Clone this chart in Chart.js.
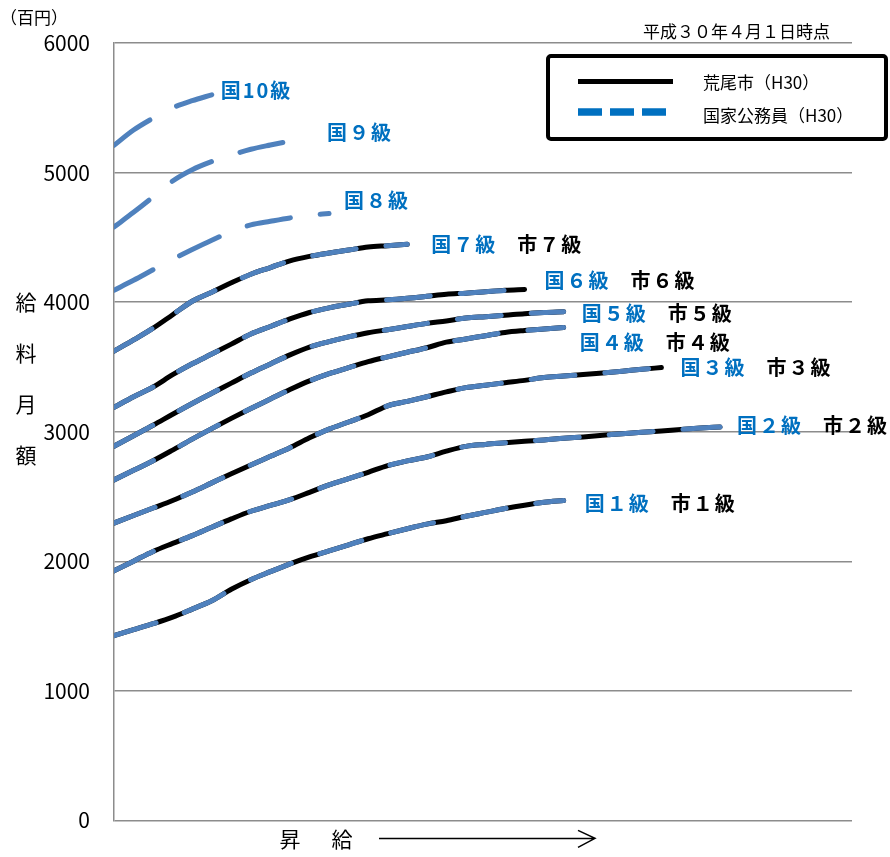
<!DOCTYPE html>
<html lang="ja">
<head>
<meta charset="utf-8">
<title>給料月額の比較（荒尾市・国家公務員）</title>
<script src="https://cdn.jsdelivr.net/npm/chart.js@4/dist/chart.umd.min.js"></script>
<style>
  html, body { margin: 0; padding: 0; background: #fff; }
  #wrap { width: 890px; height: 857px; position: relative; }
</style>
</head>
<body>
<div id="wrap"><canvas id="c" width="890" height="857"></canvas></div>
<script>
// 号俸（4号俸ごと）
const STEPS = [1, 5, 9, 13, 17, 21, 25, 29, 33, 37, 41, 45, 49, 53, 57, 61,
               65, 69, 73, 77, 81, 85, 89, 93, 97, 101, 105, 109, 113, 117, 121, 125];

// 級の表記
const GRADE_NAMES = ['１', '２', '３', '４', '５', '６', '７', '８', '９', '10'];

// 国家公務員 行政職(一) 給料月額（百円）
const national1  = [1426, 1472, 1518, 1569, 1631, 1695, 1784, 1858, 1920, 1980, 2034, 2080,
                    2127, 2174, 2213, 2251, 2287, 2313, 2347, 2377, 2407, 2433, 2455, 2469];
const national2  = [1926, 2001, 2076, 2138, 2198, 2263, 2327, 2386, 2431, 2476, 2532, 2590,
                    2638, 2687, 2738, 2775, 2805, 2850, 2887, 2902, 2914, 2926, 2936, 2949,
                    2960, 2972, 2985, 2996, 3006, 3018, 3028, 3036];
const national3  = [2295, 2353, 2411, 2469, 2535, 2605, 2675, 2743, 2810, 2877, 2953, 3020,
                    3075, 3131, 3200, 3234, 3270, 3307, 3340, 3359, 3378, 3396, 3418, 3429,
                    3441, 3453, 3467, 3482, 3495];
const national4  = [2628, 2702, 2776, 2858, 2943, 3024, 3103, 3179, 3252, 3325, 3392, 3448,
                    3494, 3541, 3578, 3613, 3648, 3691, 3716, 3741, 3766, 3781, 3793, 3805];
const national5  = [2888, 2969, 3050, 3135, 3218, 3297, 3375, 3453, 3523, 3593, 3653, 3695,
                    3732, 3764, 3787, 3812, 3836, 3855, 3877, 3888, 3899, 3911, 3920, 3926];
const national6  = [3188, 3270, 3345, 3440, 3524, 3599, 3676, 3754, 3812, 3870, 3920, 3956,
                    3984, 4010, 4018, 4030, 4045, 4061, 4069, 4080, 4091, 4098];
const national7  = [3622, 3708, 3799, 3903, 4007, 4077, 4149, 4215, 4267, 4319, 4353, 4379,
                    4402, 4426, 4436, 4446];
const national8  = [4092, 4169, 4250, 4330, 4406, 4478, 4544, 4596, 4624, 4650, 4670, 4684];
const national9  = [4580, 4693, 4812, 4935, 5022, 5085, 5135, 5180, 5213, 5243];
const national10 = [5210, 5328, 5420, 5500, 5555, 5600];

// 荒尾市 給料月額（百円）— 1級〜7級は国の表と同額
const city1 = national1.slice();
const city2 = national2.slice();
const city3 = national3.slice();
const city4 = national4.slice();
const city5 = national5.slice();
const city6 = national6.slice();
const city7 = national7.slice();

const NATIONAL = [national1, national2, national3, national4, national5,
                  national6, national7, national8, national9, national10];
const CITY = [city1, city2, city3, city4, city5, city6, city7];

// 縦軸目盛
const Y_TICKS = [0, 1000, 2000, 3000, 4000, 5000, 6000];

const BLUE_LINE = '#4F81BD';
const BLUE_TEXT = '#0070C0';
const GRID = '#8c8c8c';
const FONT = '"Noto Sans CJK JP", "Noto Sans", sans-serif';

const toPoints = vals => vals.map((v, j) => ({ x: STEPS[j], y: v }));

const datasets = [];
NATIONAL.forEach((vals, i) => {
  datasets.push({
    label: '国' + GRADE_NAMES[i] + '級',
    data: toPoints(vals),
    borderColor: BLUE_LINE,
    borderWidth: 5,
    borderDash: [44, 30],
    borderCapStyle: 'round',
    borderJoinStyle: 'round',
    pointRadius: 0,
    cubicInterpolationMode: 'monotone',
    fill: false,
    order: 0
  });
});
CITY.forEach((vals, i) => {
  datasets.push({
    label: '市' + GRADE_NAMES[i] + '級',
    data: toPoints(vals),
    borderColor: '#000',
    borderWidth: 5,
    borderCapStyle: 'round',
    borderJoinStyle: 'round',
    pointRadius: 0,
    cubicInterpolationMode: 'monotone',
    fill: false,
    order: 1
  });
});

// 級ラベルの位置（線の終点からのずれ, px）
const LABEL_SHIFT = [
  [21, 3], [17, -2], [19, 0], [16, 15], [18, 2],
  [20, -9], [24, 0], [15, -13], [37, -9], [9, -4]
];
const CITY_LABEL_GAP = 86;

const annotations = {
  id: 'annotations',
  afterDraw(chart) {
    const ctx = chart.ctx;
    const xs = chart.scales.x, ys = chart.scales.y;
    const area = chart.chartArea;
    ctx.save();
    ctx.textBaseline = 'middle';
    ctx.textAlign = 'left';

    // 級ラベル
    NATIONAL.forEach((vals, i) => {
      const last = vals.length - 1;
      const px = xs.getPixelForValue(STEPS[last]);
      const py = ys.getPixelForValue(vals[last]);
      const lx = px + LABEL_SHIFT[i][0];
      const ly = py + LABEL_SHIFT[i][1];
      ctx.font = 'bold 20px ' + FONT;
      ctx.letterSpacing = '2px';
      ctx.fillStyle = BLUE_TEXT;
      ctx.fillText('国' + GRADE_NAMES[i] + '級', lx, ly);
      if (i < CITY.length) {
        ctx.fillStyle = '#000';
        ctx.fillText('市' + GRADE_NAMES[i] + '級', lx + CITY_LABEL_GAP, ly);
      }
    });
    ctx.letterSpacing = '0px';

    // 単位
    ctx.fillStyle = '#000';
    ctx.font = '17px ' + FONT;
    ctx.fillText('（百円）', 0, 18);

    // 基準日
    ctx.font = '17px ' + FONT;
    ctx.textAlign = 'right';
    ctx.fillText('平成３０年４月１日時点', 830, 32);
    ctx.textAlign = 'left';

    // 縦軸タイトル
    ctx.font = '21px ' + FONT;
    ctx.textAlign = 'center';
    ['給', '料', '月', '額'].forEach((ch, k) => {
      ctx.fillText(ch, 26, 302 + k * 51);
    });

    // 横軸タイトルと矢印
    const by = area.bottom + 19;
    ctx.fillText('昇', 290, by);
    ctx.fillText('給', 342, by);
    ctx.strokeStyle = '#000';
    ctx.lineWidth = 1.5;
    ctx.beginPath();
    ctx.moveTo(379, by - 1);
    ctx.lineTo(594, by - 1);
    ctx.moveTo(578, by - 9);
    ctx.lineTo(595, by - 1);
    ctx.lineTo(578, by + 8);
    ctx.stroke();

    // 凡例
    ctx.lineWidth = 4;
    ctx.strokeStyle = '#000';
    ctx.beginPath();
    ctx.roundRect(548, 56, 338, 83, 3);
    ctx.stroke();

    ctx.lineWidth = 5;
    ctx.beginPath();
    ctx.moveTo(578, 81.5);
    ctx.lineTo(673, 81.5);
    ctx.stroke();

    ctx.strokeStyle = BLUE_TEXT;
    ctx.lineWidth = 7.5;
    ctx.setLineDash([24, 8]);
    ctx.beginPath();
    ctx.moveTo(578, 112);
    ctx.lineTo(666, 112);
    ctx.stroke();
    ctx.setLineDash([]);

    ctx.textAlign = 'left';
    ctx.fillStyle = '#000';
    ctx.font = '17px ' + FONT;
    ctx.fillText('荒尾市（H30）', 703, 83);
    ctx.fillText('国家公務員（H30）', 703, 116);
    ctx.restore();
  }
};

Chart.defaults.font.family = FONT;

new Chart(document.getElementById('c'), {
  type: 'line',
  data: { datasets },
  options: {
    responsive: false,
    animation: false,
    events: [],
    layout: { padding: { left: 0, top: 43, right: 38, bottom: 33 } },
    plugins: { legend: { display: false }, tooltip: { enabled: false } },
    scales: {
      x: { type: 'linear', min: 1, max: 152, display: false },
      y: {
        min: Y_TICKS[0],
        max: Y_TICKS[Y_TICKS.length - 1],
        afterBuildTicks: s => { s.ticks = Y_TICKS.map(v => ({ value: v })); },
        afterFit: s => { s.width = 114; },
        ticks: { font: { size: 21 }, color: '#000', padding: 24, callback: v => String(v) },
        grid: { color: GRID, lineWidth: 1.5, drawTicks: false },
        border: { color: GRID, width: 1.5 }
      }
    }
  },
  plugins: [annotations]
});
</script>
</body>
</html>
